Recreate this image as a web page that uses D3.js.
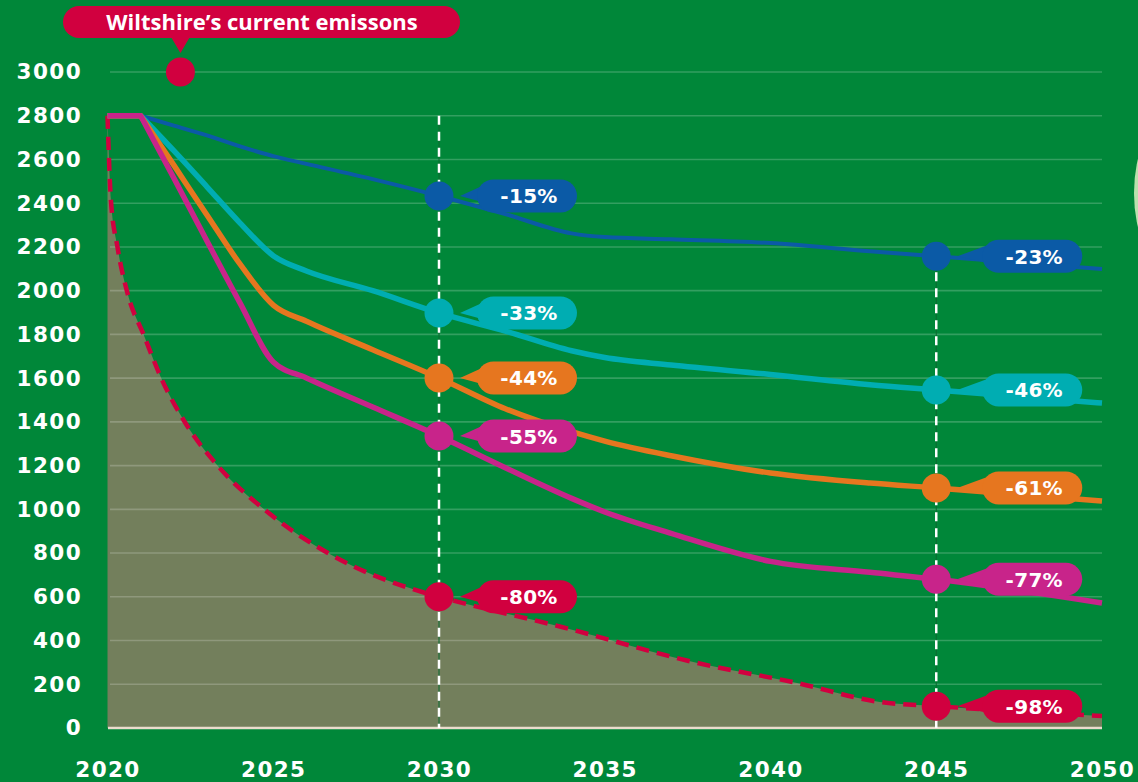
<!DOCTYPE html>
<html>
<head>
<meta charset="utf-8">
<script src="https://cdn.jsdelivr.net/npm/d3@7"></script>
<style>
    body { margin: 0; background: #008739; overflow: hidden; }
    svg { display: block; }
    .tick-label { font-family: "DejaVu Sans", sans-serif; font-weight: bold; font-size: 21.5px; fill: #fff; letter-spacing: 1.4px; }
    .pill-text { font-family: "DejaVu Sans", sans-serif; font-weight: bold; font-size: 20px; fill: #fff; letter-spacing: 0.3px; }
</style>
</head>
<body>
<div id="chart_area"></div>
<script>
const WIDTH = 1138;
const HEIGHT = 782;

// Axis ticks
const y_ticks = [0, 200, 400, 600, 800, 1000, 1200, 1400, 1600, 1800, 2000, 2200, 2400, 2600, 2800, 3000];
const x_ticks = [2020, 2025, 2030, 2035, 2040, 2045, 2050];

// Reduction pathways (ktCO2)
const pathway_years = [2020, 2021, 2022, 2023, 2024, 2025, 2026, 2028, 2030, 2032, 2034, 2035, 2037, 2040, 2043, 2045, 2050];
const blue_values    = [2800, 2800, 2755, 2710, 2660, 2615, 2580, 2510, 2433, 2350, 2262, 2245, 2235, 2218, 2180, 2157, 2099];
const teal_values    = [2800, 2800, 2640, 2475, 2309, 2160, 2090, 2000, 1898, 1815, 1725, 1694, 1660, 1617, 1570, 1546, 1486];
const orange_values  = [2800, 2800, 2574, 2346, 2121, 1934, 1860, 1730, 1601, 1460, 1355, 1312, 1245, 1166, 1120, 1098, 1038];
const magenta_values = [2800, 2800, 2515, 2227, 1943, 1674, 1601, 1468, 1335, 1190, 1050, 988, 890, 762, 712, 680, 572];

// Carbon budget curve (dashed red, shaded below)
const budget_years  = [2020, 2020.1, 2020.3, 2020.6, 2021.1, 2021.65, 2022.35, 2023.35, 2024.75, 2026.65, 2029.6, 2030, 2033.7, 2037.8, 2040.8, 2043.3, 2045, 2050];
const budget_values = [2800, 2420, 2200, 1990, 1795, 1590, 1395, 1195, 997, 800, 617, 600, 462, 297, 206, 119, 100, 55];

// Callouts
const marker_years = [2030, 2045];
const blue_labels    = ["-15%", "-23%"];
const teal_labels    = ["-33%", "-46%"];
const orange_labels  = ["-44%", "-61%"];
const magenta_labels = ["-55%", "-77%"];
const budget_labels  = ["-80%", "-98%"];

const current_label = "Wiltshire’s current emissons";
const current_year = 2022.2;
const current_value = 3000;

const BLUE = "#0b5aa6";
const TEAL = "#00adb2";
const ORANGE = "#e6761f";
const MAGENTA = "#c8248a";
const RED = "#d1003f";

let svg = d3.select("#chart_area")
    .append("svg")
    .attr("width", WIDTH)
    .attr("height", HEIGHT);

let x = d3.scaleLinear().domain([2020, 2050]).range([107.5, 1102]);
let y = d3.scaleLinear().domain([0, 3000]).range([728, 72]);

// odd light shape cut off at the right edge
svg.append("ellipse")
    .attr("cx", 1170).attr("cy", 193)
    .attr("rx", 36).attr("ry", 75)
    .attr("fill", "#b9e2ad");

function pairs(years, values) {
    return years.map((yr, i) => [yr, values[i]]);
}

let budget_data = pairs(budget_years, budget_values);

// shaded area under the budget curve
let area = d3.area()
    .x(d => x(d[0]))
    .y0(y(0))
    .y1(d => y(d[1]))
    .curve(d3.curveMonotoneX);

svg.append("path")
    .datum(budget_data)
    .attr("d", area)
    .attr("fill", "#737f5c");

// gridlines
svg.append("g")
    .selectAll("line")
    .data(y_ticks.filter(d => d > 0))
    .enter().append("line")
    .attr("x1", 110).attr("x2", 1102)
    .attr("y1", d => y(d)).attr("y2", d => y(d))
    .attr("stroke", "rgba(255,255,255,0.2)")
    .attr("stroke-width", 1.6);

svg.append("line")
    .attr("x1", 108).attr("x2", 1102)
    .attr("y1", y(0)).attr("y2", y(0))
    .attr("stroke", "#eadccd")
    .attr("stroke-width", 2.5);

// axes (labels only)
let y_axis = d3.axisLeft(y).tickValues(y_ticks).tickSize(0).tickPadding(0).tickFormat(d3.format("d"));
let y_g = svg.append("g").attr("transform", "translate(82,0)").call(y_axis);
y_g.select(".domain").remove();
y_g.selectAll("text").attr("class", "tick-label");

let x_axis = d3.axisBottom(x).tickValues(x_ticks).tickSize(0).tickPadding(8).tickFormat(d3.format("d"));
let x_g = svg.append("g").attr("transform", "translate(0,754)").call(x_axis);
x_g.select(".domain").remove();
x_g.selectAll("text").attr("class", "tick-label");

// vertical marker lines at 2030 and 2045
let marker_tops = [y(2800), y(blue_values[pathway_years.indexOf(2045)])];
marker_years.forEach((yr, i) => {
    svg.append("line")
        .attr("x1", x(yr)).attr("x2", x(yr))
        .attr("y1", marker_tops[i]).attr("y2", y(0))
        .attr("stroke", "#0d6a31").attr("stroke-width", 1);
    svg.append("line")
        .attr("x1", x(yr)).attr("x2", x(yr))
        .attr("y1", marker_tops[i]).attr("y2", y(0))
        .attr("stroke", "#fff").attr("stroke-width", 2.5)
        .attr("stroke-dasharray", "9,7");
});

let line = d3.line()
    .x(d => x(d[0]))
    .y(d => y(d[1]))
    .curve(d3.curveMonotoneX);

let straight = d3.line()
    .x(d => x(d[0]))
    .y(d => y(d[1]));

// budget dashed line
svg.append("path")
    .datum(budget_data)
    .attr("d", line)
    .attr("fill", "none")
    .attr("stroke", RED)
    .attr("stroke-width", 4.5)
    .attr("stroke-dasharray", "13,8");

const series = [
    {values: blue_values, color: BLUE, width: 4, labels: blue_labels},
    {values: teal_values, color: TEAL, width: 5.5, labels: teal_labels},
    {values: orange_values, color: ORANGE, width: 5.5, labels: orange_labels},
    {values: magenta_values, color: MAGENTA, width: 5.5, labels: magenta_labels}
];

series.forEach(s => {
    const pts = pairs(pathway_years, s.values);
    // flat part 2020-2021 is a sharp corner, the rest is smoothed
    const flat_path = straight(pts.slice(0, 2));
    const decline_path = line(pts.slice(1));
    svg.append("path")
        .attr("d", flat_path + decline_path.replace(/^M/, "L"))
        .attr("fill", "none")
        .attr("stroke", s.color)
        .attr("stroke-width", s.width)
        .attr("stroke-linejoin", "round");
});

function draw_callout(year, value, text, color, pill_offset) {
    const cx = x(year);
    const cy = y(value);
    const pill_w = 100, pill_h = 33;
    const left = cx + pill_offset;
    svg.append("circle")
        .attr("cx", cx).attr("cy", cy).attr("r", 14.5)
        .attr("fill", color);
    svg.append("path")
        .attr("d", `M${cx + 21},${cy} L${left + 16},${cy - 15} L${left + 16},${cy + 9} Z`)
        .attr("fill", color);
    svg.append("rect")
        .attr("x", left).attr("y", cy - pill_h / 2)
        .attr("width", pill_w).attr("height", pill_h)
        .attr("rx", pill_h / 2)
        .attr("fill", color);
    svg.append("text")
        .attr("class", "pill-text")
        .attr("x", left + pill_w / 2 + 2).attr("y", cy + 7.5)
        .attr("text-anchor", "middle")
        .text(text);
}

const pill_offsets = [38, 46];

series.forEach(s => {
    marker_years.forEach((yr, i) => {
        draw_callout(yr, s.values[pathway_years.indexOf(yr)], s.labels[i], s.color, pill_offsets[i]);
    });
});
marker_years.forEach((yr, i) => {
    draw_callout(yr, budget_values[budget_years.indexOf(yr)], budget_labels[i], RED, pill_offsets[i]);
});

// current emissions marker at the top
const cur_x = x(current_year);
const cur_y = y(current_value);
svg.append("circle").attr("cx", cur_x).attr("cy", cur_y).attr("r", 14.5).attr("fill", RED);
svg.append("path")
    .attr("d", `M${cur_x - 10},${cur_y - 36} L${cur_x + 10},${cur_y - 36} L${cur_x},${cur_y - 19} Z`)
    .attr("fill", RED);
svg.append("rect")
    .attr("x", 63).attr("y", cur_y - 66)
    .attr("width", 397).attr("height", 32)
    .attr("rx", 16)
    .attr("fill", RED);
svg.append("text")
    .attr("x", 262).attr("y", cur_y - 42)
    .attr("text-anchor", "middle")
    .attr("font-family", "'Open Sans', sans-serif")
    .attr("font-weight", 700)
    .attr("font-size", 22)
    .attr("fill", "#fff")
    .text(current_label);
</script>
</body>
</html>
